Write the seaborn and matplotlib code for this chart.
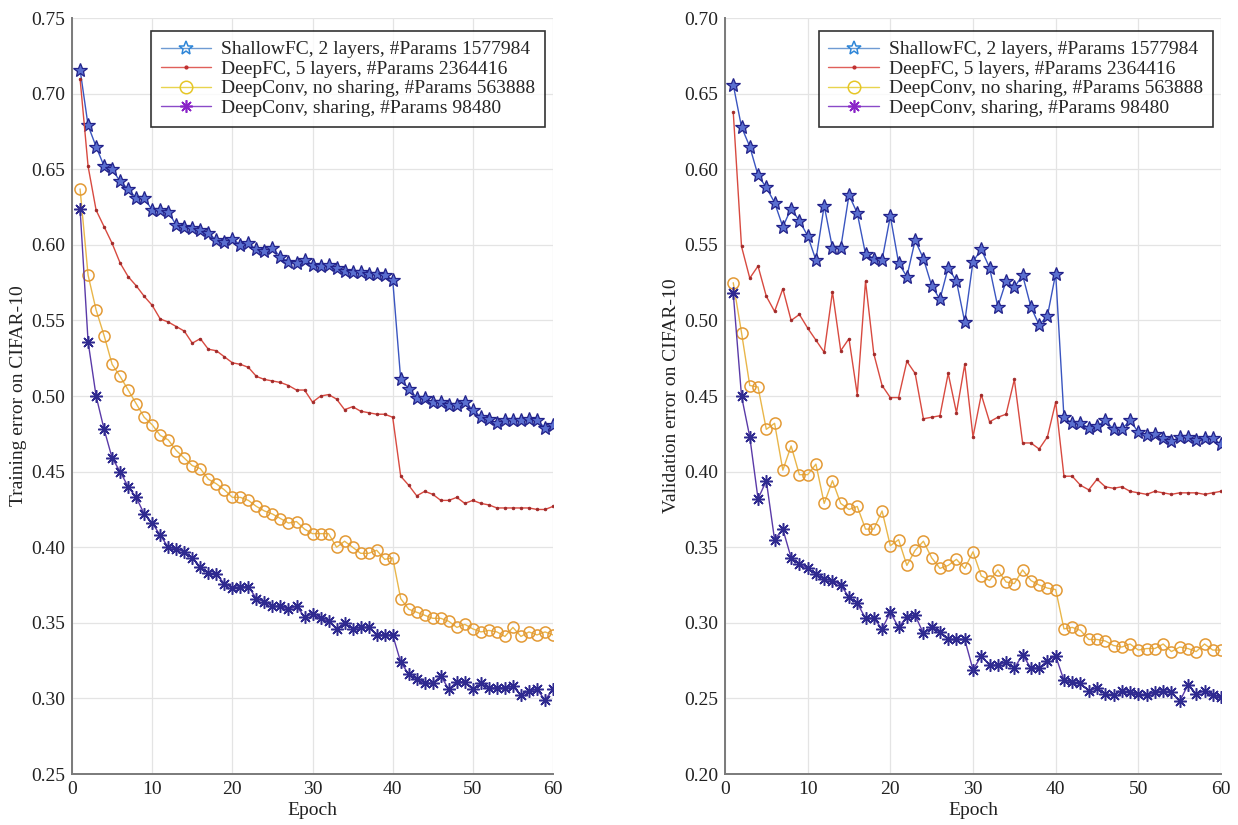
import matplotlib
matplotlib.use("Agg")
import matplotlib.pyplot as plt
from matplotlib.lines import Line2D
import seaborn as sns
import numpy as np

epochs = list(range(1, 61))

labels = ["ShallowFC, 2 layers, #Params 1577984",
          "DeepFC, 5 layers, #Params 2364416",
          "DeepConv, no sharing, #Params 563888",
          "DeepConv, sharing, #Params 98480"]

train_shallowfc = [0.716,0.679,0.665,0.652,0.650,0.642,0.637,0.631,0.631,0.623,0.623,0.622,0.613,0.612,0.611,0.610,0.608,0.603,0.602,0.604,
                   0.600,0.601,0.597,0.596,0.598,0.592,0.589,0.588,0.590,0.587,0.586,0.587,0.585,0.583,0.582,0.582,0.581,0.581,0.580,0.577,
                   0.511,0.505,0.499,0.499,0.496,0.496,0.494,0.494,0.496,0.491,0.486,0.485,0.482,0.484,0.484,0.484,0.485,0.484,0.479,0.481]
train_deepfc = [0.710,0.652,0.623,0.612,0.601,0.588,0.579,0.573,0.566,0.560,0.551,0.549,0.546,0.543,0.535,0.538,0.531,0.530,0.526,0.522,
                0.521,0.519,0.513,0.511,0.510,0.509,0.507,0.504,0.504,0.496,0.500,0.501,0.498,0.491,0.493,0.490,0.489,0.488,0.488,0.486,
                0.447,0.441,0.434,0.437,0.435,0.431,0.431,0.433,0.429,0.431,0.429,0.428,0.426,0.426,0.426,0.426,0.426,0.425,0.425,0.427]
train_conv_noshare = [0.637,0.580,0.557,0.540,0.521,0.513,0.504,0.495,0.486,0.481,0.474,0.471,0.464,0.459,0.454,0.452,0.445,0.442,0.438,0.433,
                      0.433,0.431,0.427,0.424,0.422,0.419,0.416,0.417,0.412,0.409,0.409,0.409,0.400,0.404,0.400,0.396,0.396,0.398,0.392,0.393,
                      0.366,0.359,0.357,0.355,0.353,0.353,0.351,0.347,0.349,0.346,0.344,0.345,0.344,0.341,0.347,0.341,0.344,0.342,0.344,0.342]
train_conv_share = [0.624,0.536,0.500,0.478,0.459,0.450,0.440,0.433,0.422,0.416,0.408,0.400,0.399,0.397,0.393,0.387,0.383,0.382,0.376,0.373,
                    0.374,0.374,0.366,0.364,0.361,0.361,0.359,0.361,0.354,0.356,0.353,0.351,0.346,0.350,0.346,0.347,0.347,0.342,0.342,0.342,
                    0.324,0.316,0.313,0.310,0.310,0.315,0.306,0.311,0.311,0.306,0.310,0.307,0.307,0.307,0.308,0.302,0.305,0.306,0.299,0.306]

val_shallowfc = [0.656,0.628,0.615,0.596,0.588,0.578,0.562,0.574,0.566,0.556,0.540,0.576,0.548,0.548,0.583,0.571,0.544,0.541,0.540,0.569,
                 0.538,0.529,0.553,0.541,0.523,0.514,0.535,0.526,0.499,0.539,0.547,0.535,0.509,0.526,0.522,0.530,0.509,0.497,0.503,0.531,
                 0.436,0.432,0.432,0.429,0.430,0.434,0.428,0.428,0.434,0.426,0.424,0.425,0.422,0.420,0.423,0.423,0.421,0.422,0.422,0.418]
val_deepfc = [0.638,0.549,0.528,0.536,0.516,0.506,0.521,0.500,0.504,0.495,0.487,0.479,0.519,0.480,0.488,0.451,0.526,0.478,0.457,0.449,
              0.449,0.473,0.465,0.435,0.436,0.437,0.465,0.439,0.471,0.423,0.451,0.433,0.436,0.438,0.461,0.419,0.419,0.415,0.423,0.446,
              0.397,0.397,0.391,0.388,0.395,0.390,0.389,0.390,0.387,0.386,0.385,0.387,0.386,0.385,0.386,0.386,0.386,0.385,0.386,0.387]
val_conv_noshare = [0.525,0.492,0.457,0.456,0.428,0.432,0.401,0.417,0.398,0.398,0.405,0.379,0.394,0.379,0.375,0.377,0.362,0.362,0.374,0.351,
                    0.355,0.338,0.348,0.354,0.343,0.336,0.338,0.342,0.336,0.347,0.331,0.328,0.335,0.327,0.326,0.335,0.328,0.325,0.323,0.322,
                    0.296,0.297,0.295,0.289,0.289,0.288,0.285,0.284,0.286,0.282,0.283,0.283,0.286,0.281,0.284,0.283,0.281,0.286,0.282,0.282]
val_conv_share = [0.518,0.450,0.423,0.382,0.394,0.355,0.362,0.343,0.339,0.336,0.332,0.329,0.328,0.325,0.317,0.313,0.303,0.303,0.296,0.307,
                  0.297,0.304,0.305,0.293,0.297,0.294,0.289,0.289,0.289,0.269,0.278,0.272,0.272,0.274,0.270,0.279,0.270,0.270,0.275,0.278,
                  0.262,0.261,0.260,0.255,0.257,0.253,0.252,0.255,0.254,0.253,0.252,0.254,0.255,0.254,0.248,0.259,0.253,0.255,0.252,0.251]

xticks = [0, 10, 20, 30, 40, 50, 60]
yticks_train = [0.25, 0.30, 0.35, 0.40, 0.45, 0.50, 0.55, 0.60, 0.65, 0.70, 0.75]
yticks_val = [0.20, 0.25, 0.30, 0.35, 0.40, 0.45, 0.50, 0.55, 0.60, 0.65, 0.70]

sns.set_style("white")
plt.rcParams['font.family'] = ['Liberation Serif', 'DejaVu Serif']

styles = [
    dict(color="#3a55c0", marker="*", markersize=10, markerfacecolor="#5a6fd0", markeredgecolor="#22228a", markeredgewidth=0.9),
    dict(color="#d84a40", marker=".", markersize=4, markerfacecolor="#a02828", markeredgecolor="#a02828", markeredgewidth=0.5),
    dict(color="#e9b64a", marker="o", markersize=8, markerfacecolor="none", markeredgecolor="#e39a35", markeredgewidth=1.1),
    dict(color="#5a3aa8", marker=(8, 2, 0), markersize=9, markerfacecolor="#2f2a90", markeredgecolor="#2f2a90", markeredgewidth=1.1),
]
legend_styles = [
    dict(color="#6f9bd3", marker="*", markersize=10, markerfacecolor="none", markeredgecolor="#2e86d8", markeredgewidth=1.1),
    dict(color="#e0605a", marker=".", markersize=4, markerfacecolor="#c03030", markeredgecolor="#c03030"),
    dict(color="#e8d44e", marker="o", markersize=9, markerfacecolor="none", markeredgecolor="#e6c626", markeredgewidth=1.1),
    dict(color="#8a4ac8", marker=(8, 2, 0), markersize=9, markeredgecolor="#8a22c8", markeredgewidth=1.2),
]

fig = plt.figure(figsize=(12.38, 8.25), dpi=100)
ax1 = fig.add_axes([0.0582, 0.0618, 0.3885, 0.9162])
ax2 = fig.add_axes([0.5856, 0.0618, 0.4007, 0.9162])

def draw(ax, series, yticks, ylabel):
    for vals, st in zip(series, styles):
        sns.lineplot(x=epochs, y=vals, ax=ax, linewidth=1.0, **st)
    ax.set_xlim(0, 60)
    ax.set_ylim(yticks[0], yticks[-1])
    ax.set_xticks(xticks)
    ax.set_yticks(yticks)
    ax.set_yticklabels([f"{t:.2f}" for t in yticks])
    ax.grid(True, color="#e4e4e4", linewidth=0.9)
    ax.set_axisbelow(True)
    for s in ["top", "right"]:
        ax.spines[s].set_visible(False)
    for s in ["left", "bottom"]:
        ax.spines[s].set_color("#7a7a7a")
        ax.spines[s].set_linewidth(1.4)
    ax.tick_params(direction="in", length=5, width=1.0, color="#7a7a7a",
                   labelsize=14, labelcolor="#222222", pad=5)
    ax.set_xlabel("Epoch", fontsize=14, color="#222222", labelpad=3)
    ax.set_ylabel(ylabel, fontsize=14, color="#222222", labelpad=3)
    handles = [Line2D([0], [0], linewidth=1.0, **ls) for ls in legend_styles]
    leg = ax.legend(handles, labels, loc="upper right", bbox_to_anchor=(0.983, 0.983),
                    fontsize=14, frameon=True, fancybox=False, handlelength=2.6,
                    borderpad=0.5, labelspacing=0.1, handletextpad=0.5, borderaxespad=0.0)
    leg.get_frame().set_edgecolor("black")
    leg.get_frame().set_linewidth(1.2)

draw(ax1, [train_shallowfc, train_deepfc, train_conv_noshare, train_conv_share],
     yticks_train, "Training error on CIFAR-10")
draw(ax2, [val_shallowfc, val_deepfc, val_conv_noshare, val_conv_share],
     yticks_val, "Validation error on CIFAR-10")

fig.savefig("out.png", dpi=100)
